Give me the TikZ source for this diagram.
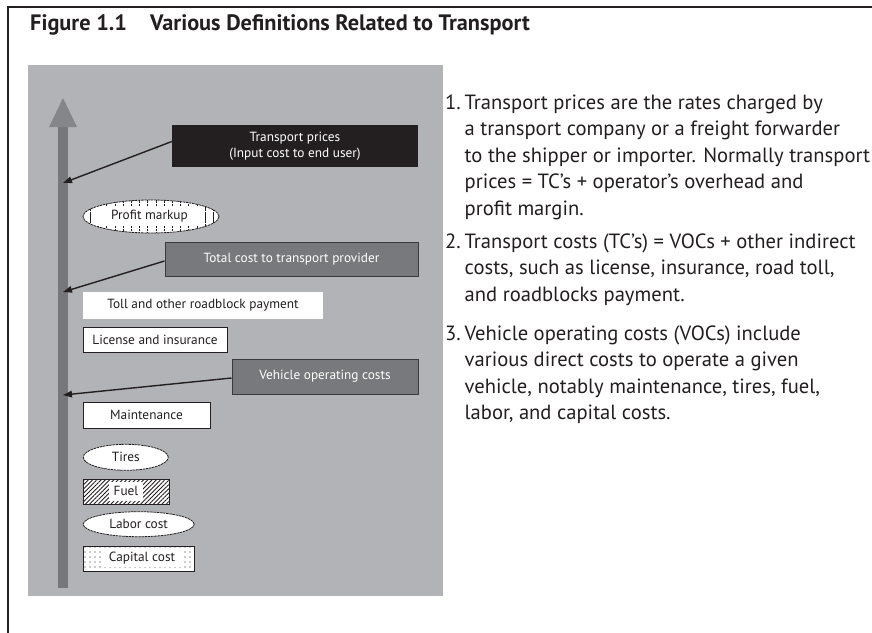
\documentclass[tikz,border=0pt]{standalone}
\usepackage{fontspec}
\setmainfont{PT Sans}
\usetikzlibrary{shapes.geometric,patterns.meta,arrows.meta,calc}
\definecolor{panel}{HTML}{B2B3B6}
\definecolor{shaft}{HTML}{76777A}
\definecolor{headc}{HTML}{85868A}
\definecolor{boxgray}{HTML}{78797C}
\definecolor{boxedge}{HTML}{3A3A3C}
\definecolor{ink}{HTML}{231F20}
\begin{document}
\begin{tikzpicture}[x=1pt,y=-1pt,
  lbl/.style={font=\fontsize{13.3}{16}\selectfont, inner sep=0pt, text=ink},
  wbox/.style={lbl, rectangle, fill=white, draw=ink, line width=0.9pt},
  gbox/.style={lbl, rectangle, fill=boxgray, draw=boxedge, line width=1pt, text=white},
  oval/.style={lbl, ellipse, fill=white, draw=ink, line width=0.8pt, dash pattern=on 2.5pt off 0.7pt},
  inner/.style={lbl, rectangle, fill=white},
  conn/.style={draw=ink, line width=1.4pt, -{Triangle[length=9pt,width=6.5pt]}},
  bodytext/.style={anchor=base west, inner sep=0pt, text=ink, font=\fontsize{20.6}{26.5}\selectfont},
  titletext/.style={anchor=base west, inner sep=0pt, text=ink, font=\fontsize{22.3}{26}\selectfont\bfseries}]
\useasboundingbox (0,0) rectangle (872,632);
\fill[white] (0,0) rectangle (872,632);
% frame
\draw[line width=1.2pt, ink] (8,650) -- (8,7) -- (890,7);
% title
\node[titletext] (fig) at (30,30.5) {Figure 1.1};
\node[titletext] (ttl) at (150,30.5) {Various Definitions Related to Transport};
% panel
\fill[panel] (28,65) rectangle (443,596);
% big arrow
\fill[shaft] (58,120) rectangle (68,588);
\fill[headc] (49,127) -- (63,98) -- (77,127) -- cycle;
\coordinate (a1) at (63,183);
\coordinate (a2) at (63,292);
\coordinate (a3) at (63,395);
% boxes
\node[lbl, rectangle, fill=ink, text=white, minimum width=246pt, minimum height=42pt, align=center, font=\fontsize{13.3}{16}\selectfont] (tp) at (295,146) {Transport prices\\(Input cost to end user)};
\node[oval, minimum width=136pt, minimum height=33pt, preaction={fill=white}, pattern={Lines[angle=90,distance=8.2pt,line width=0.6pt]}, pattern color=ink] (pm) at (151,216.5) {};
\node[inner, minimum width=107pt, minimum height=19.5pt] (pmt) at (149.5,216.5) {Profit markup};
\node[gbox, minimum width=253pt, minimum height=34pt] (tc) at (291.5,259) {Total cost to transport provider};
\node[lbl, rectangle, fill=white, minimum width=240pt, minimum height=27pt] (toll) at (203,305.5) {Toll and other roadblock payment};
\node[wbox, minimum width=144pt, minimum height=25pt] (lic) at (155,339.5) {License and insurance};
\node[gbox, minimum width=186pt, minimum height=35pt] (voc) at (325,376.5) {Vehicle operating costs};
\node[wbox, minimum width=127pt, minimum height=26pt] (mnt) at (146.5,415) {Maintenance};
\node[oval, minimum width=85pt, minimum height=26pt] (tir) at (125.8,457.3) {Tires};
\node[lbl, rectangle, draw=ink, line width=0.9pt, preaction={fill=white}, pattern={Lines[angle=45,distance=3pt,line width=0.9pt]}, pattern color=ink, minimum width=86pt, minimum height=25pt] (fuel) at (126,491.5) {};
\node[inner, minimum width=34pt, minimum height=19pt] (fuelt) at (126,491.2) {Fuel};
\node[oval, minimum width=111pt, minimum height=25pt] (lab) at (138.7,524.2) {Labor cost};
\node[lbl, rectangle, draw=ink, line width=0.9pt, preaction={fill=white}, pattern={Dots[distance=5pt,radius=0.55pt]}, pattern color=ink, minimum width=111pt, minimum height=25pt] (cap) at (138.5,558.5) {};
\node[inner, minimum width=82pt, minimum height=17pt] (capt) at (142,558.5) {Capital cost};
% connectors
\draw[conn] ($(tp.west)+(0,-4.5)$) -- (a1);
\draw[conn] ($(tc.west)+(0,2)$) -- (a2);
\draw[conn] ($(voc.west)+(0,1.5)$) -- (a3);
% right text
\node[bodytext] (t1) at (445,109) {\begin{tabular}[t]{@{}p{19.5pt}@{}l@{}}
1. & Transport prices are the rates charged by\\
 & a transport company or a freight forwarder\\
 & to the shipper or importer. Normally transport\\
 & prices = TC’s + operator’s overhead and\\
 & profit margin.
\end{tabular}};
\node[bodytext] (t2) at (445,248) {\begin{tabular}[t]{@{}p{19.5pt}@{}l@{}}
2. & Transport costs (TC’s) = VOCs + other indirect\\
 & costs, such as license, insurance, road toll,\\
 & and roadblocks payment.
\end{tabular}};
\node[bodytext] (t3) at (445,340) {\begin{tabular}[t]{@{}p{19.5pt}@{}l@{}}
3. & Vehicle operating costs (VOCs) include\\
 & various direct costs to operate a given\\
 & vehicle, notably maintenance, tires, fuel,\\
 & labor, and capital costs.
\end{tabular}};
\end{tikzpicture}
\end{document}
